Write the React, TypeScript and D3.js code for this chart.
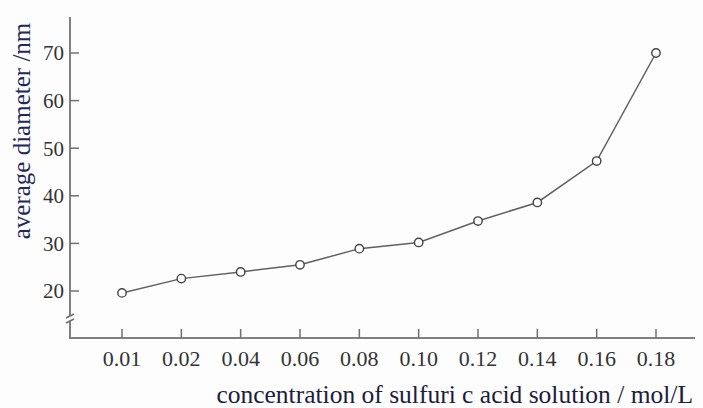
import React, { useEffect, useRef } from 'react';
import * as d3 from 'd3';

const concentrations = ['0.01', '0.02', '0.04', '0.06', '0.08', '0.10', '0.12', '0.14', '0.16', '0.18'];
const diameters = [19.6, 22.6, 24.0, 25.5, 28.9, 30.2, 34.7, 38.6, 47.3, 70.0];
const yTicks = [20, 30, 40, 50, 60, 70];

const App: React.FC = () => {
  const svgRef = useRef<SVGSVGElement>(null);
  const width = 703;
  const height = 408;

  useEffect(() => {
    document.body.style.margin = '0';
    if (!svgRef.current) return;
    const svg = d3.select(svgRef.current);
    svg.selectAll('*').remove();

    const axisX = 70;
    const axisY = 338;
    const font = '"Liberation Serif", "Times New Roman", serif';

    const x = d3.scalePoint<string>().domain(concentrations).range([122, 656]);
    const y = d3.scaleLinear().domain([20, 70]).range([291, 53]);

    svg.append('rect').attr('width', width).attr('height', height).attr('fill', '#fdfdfd');

    // axes
    svg.append('line')
      .attr('x1', axisX).attr('x2', axisX).attr('y1', 17).attr('y2', axisY)
      .attr('stroke', '#808080').attr('stroke-width', 2);
    svg.append('line')
      .attr('x1', axisX - 1).attr('x2', 695).attr('y1', axisY).attr('y2', axisY)
      .attr('stroke', '#808080').attr('stroke-width', 2);

    // axis break
    svg.append('rect').attr('x', axisX - 3).attr('y', 316).attr('width', 6).attr('height', 5).attr('fill', '#fdfdfd');
    svg.append('path')
      .attr('d', `M${axisX - 4},318 L${axisX + 4},314 M${axisX - 4},323 L${axisX + 4},319`)
      .attr('stroke', '#707070').attr('stroke-width', 1.5).attr('fill', 'none');

    // y ticks
    const yg = svg.append('g');
    yTicks.forEach(t => {
      yg.append('line')
        .attr('x1', axisX).attr('x2', axisX + 9).attr('y1', y(t)).attr('y2', y(t))
        .attr('stroke', '#707070').attr('stroke-width', 1.5);
      yg.append('text')
        .attr('x', axisX - 6).attr('y', y(t)).attr('dy', '0.35em')
        .attr('text-anchor', 'end')
        .style('font-family', font).style('font-size', '21px').style('fill', '#333')
        .text(t);
    });

    // x ticks
    const xg = svg.append('g');
    concentrations.forEach(c => {
      xg.append('line')
        .attr('x1', x(c)!).attr('x2', x(c)!).attr('y1', axisY).attr('y2', axisY - 9)
        .attr('stroke', '#707070').attr('stroke-width', 1.5);
      xg.append('text')
        .attr('x', x(c)!).attr('y', 358).attr('dy', '0.35em')
        .attr('text-anchor', 'middle')
        .style('font-family', font).style('font-size', '22px').style('fill', '#333')
        .text(c);
    });

    // titles
    svg.append('text')
      .attr('x', 693).attr('y', 394).attr('dy', '0.35em')
      .attr('text-anchor', 'end')
      .style('font-family', font).style('font-size', '25.5px').style('fill', '#1c1c3c')
      .text('concentration of sulfuri c acid solution / mol/L');
    svg.append('text')
      .attr('transform', 'translate(21,131) rotate(-90)')
      .attr('dy', '0.35em')
      .attr('text-anchor', 'middle')
      .style('font-family', font).style('font-size', '25px').style('fill', '#1f2a5c')
      .text('average diameter /nm');

    // line
    const pts = concentrations.map((c, i) => [x(c)!, y(diameters[i])] as [number, number]);
    svg.append('path')
      .attr('d', d3.line()(pts))
      .attr('fill', 'none').attr('stroke', '#606060').attr('stroke-width', 1.5);

    svg.selectAll('.pt')
      .data(pts)
      .enter()
      .append('circle')
      .attr('class', 'pt')
      .attr('cx', d => d[0]).attr('cy', d => d[1]).attr('r', 4.2)
      .attr('fill', '#fff').attr('stroke', '#444').attr('stroke-width', 1.4);
  }, []);

  return <svg ref={svgRef} width={width} height={height} style={{ display: 'block' }} />;
};

export default App;
